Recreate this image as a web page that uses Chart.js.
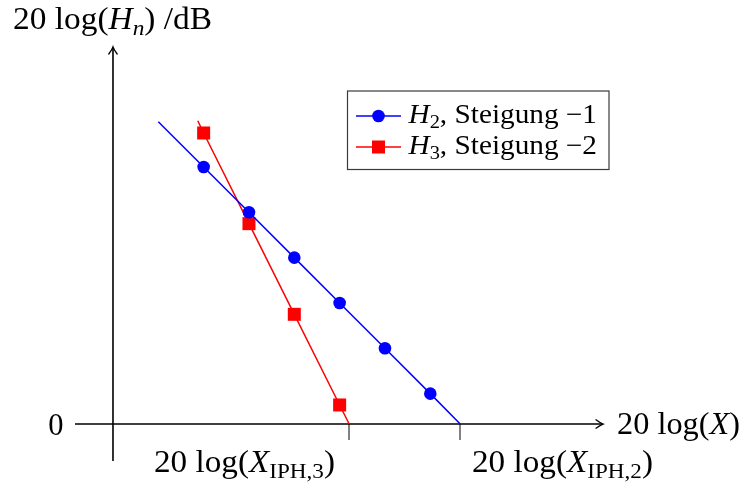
<!DOCTYPE html>
<html>
<head>
<meta charset="utf-8">
<script src="https://cdn.jsdelivr.net/npm/chart.js@4/dist/chart.umd.min.js"></script>
<style>
  html, body { margin: 0; padding: 0; background: #ffffff; }
  #wrap { width: 744px; height: 491px; }
</style>
</head>
<body>
<div id="wrap"><canvas id="c" width="744" height="491"></canvas></div>
<script>
// ---- data (arbitrary log units) ----
const h2X = [1.00, 2, 3, 4, 5, 6, 7, 7.66];
const h2Y = [6.67, 5.67, 4.67, 3.67, 2.67, 1.67, 0.67, 0];
const h3X = [1.87, 2, 3, 4, 5, 5.21];
const h3Y = [6.69, 6.42, 4.42, 2.42, 0.42, 0];
const tickX = [5.21, 7.66];
const tickLabels = [
  [['20 log(', 0, 0], ['X', 1, 0], ['IPH,3', 0, 1], [')', 0, 0]],
  [['20 log(', 0, 0], ['X', 1, 0], ['IPH,2', 0, 1], [')', 0, 0]]
];
const seriesNames = ['H2, Steigung −1', 'H3, Steigung −2'];
const legendRich = [
  [['H', 1, 0], ['2', 0, 1], [', Steigung −1', 0, 0]],
  [['H', 1, 0], ['3', 0, 1], [', Steigung −2', 0, 0]]
];
const yTitle = [['20 log(', 0, 0], ['H', 1, 0], ['n', 1, 1], [') /dB', 0, 0]];
const xTitle = [['20 log(', 0, 0], ['X', 1, 0], [')', 0, 0]];
const yZero = [['0', 0, 0]];

const FAM = '"Liberation Serif", "Times New Roman", serif';
function fontOf(size, it, sub) {
  const s = sub ? size * 0.7 : size;
  return (it ? 'italic ' : '') + s.toFixed(1) + 'px ' + FAM;
}
function drawRich(ctx, segs, x, y, size, align, targetW) {
  ctx.save();
  let w = 0;
  const ws = segs.map(s => { ctx.font = fontOf(size, s[1], s[2]); const m = ctx.measureText(s[0]).width; w += m; return m; });
  const tw = targetW || w;
  const sc = tw / w;
  let x0 = x;
  if (align === 'right') x0 = x - tw;
  else if (align === 'center') x0 = x - tw / 2;
  ctx.translate(x0, y);
  ctx.scale(sc, 1);
  ctx.fillStyle = '#000';
  ctx.textBaseline = 'alphabetic';
  ctx.textAlign = 'left';
  let cx = 0;
  segs.forEach((s, i) => {
    ctx.font = fontOf(size, s[1], s[2]);
    ctx.fillText(s[0], cx, s[2] ? size * 0.2 : 0);
    cx += ws[i];
  });
  ctx.restore();
}
function arrowHead(ctx, x, y, dir) {
  ctx.save();
  ctx.translate(x, y);
  if (dir === 'up') ctx.rotate(-Math.PI / 2);
  ctx.beginPath();
  ctx.moveTo(-7, -4.2);
  ctx.quadraticCurveTo(-2.5, -0.8, 0, 0);
  ctx.quadraticCurveTo(-2.5, 0.8, -7, 4.2);
  ctx.stroke();
  ctx.restore();
}

const axesPlugin = {
  id: 'axesPlugin',
  beforeDatasetsDraw(chart) {
    const { ctx, chartArea: a, scales: { x, y } } = chart;
    const ox = x.getPixelForValue(0), oy = y.getPixelForValue(0);
    ctx.save();
    ctx.strokeStyle = '#4d4d4d';
    ctx.lineWidth = 1.4;
    tickX.forEach(v => {
      const px = Math.round(x.getPixelForValue(v));
      ctx.beginPath(); ctx.moveTo(px, oy); ctx.lineTo(px, oy + 16); ctx.stroke();
    });
    ctx.strokeStyle = '#000';
    ctx.lineWidth = 1.6;
    ctx.lineCap = 'butt';
    ctx.beginPath(); ctx.moveTo(a.left, oy); ctx.lineTo(a.right - 0.5, oy); ctx.stroke();
    ctx.beginPath(); ctx.moveTo(ox, a.bottom); ctx.lineTo(ox, a.top + 0.5); ctx.stroke();
    ctx.lineWidth = 1.3;
    ctx.lineCap = 'round';
    arrowHead(ctx, a.right, oy, 'right');
    arrowHead(ctx, ox, a.top, 'up');
    ctx.restore();
  },
  afterDraw(chart) {
    const { ctx, scales: { y } } = chart;
    const oy = y.getPixelForValue(0);
    drawRich(ctx, yTitle, 13, 28.5, 30.5, 'left', 199);
    drawRich(ctx, xTitle, 617, oy + 10, 30.5, 'left', 123);
    drawRich(ctx, yZero, 63.5, oy + 10.5, 30.5, 'right');
    drawRich(ctx, tickLabels[0], 154, 471.5, 30.5, 'left', 181);
    drawRich(ctx, tickLabels[1], 472, 471.5, 30.5, 'left', 181);
    const bx = 347.5, by = 91, bw = 261.5, bh = 78.5;
    ctx.save();
    ctx.fillStyle = '#fff';
    ctx.fillRect(bx, by, bw, bh);
    ctx.strokeStyle = '#3a3a3a';
    ctx.lineWidth = 1.2;
    ctx.strokeRect(bx, by, bw, bh);
    const rows = [116, 147];
    chart.data.datasets.forEach((ds, i) => {
      const ry = rows[i];
      ctx.strokeStyle = ds.borderColor;
      ctx.lineWidth = ds.borderWidth;
      ctx.beginPath(); ctx.moveTo(356, ry); ctx.lineTo(401, ry); ctx.stroke();
      ctx.fillStyle = ds.backgroundColor;
      if (ds.pointStyle === 'rect') {
        ctx.fillRect(378.5 - 6.5, ry - 6.5, 13, 13);
      } else {
        ctx.beginPath(); ctx.arc(378.5, ry, 6.3, 0, Math.PI * 2); ctx.fill();
      }
      drawRich(ctx, legendRich[i], 408.5, ry + 6.8, 27, 'left', 188.5);
    });
    ctx.restore();
  }
};

const endRadius = (r) => (c) => (c.dataIndex === 0 || c.dataIndex === c.dataset.data.length - 1) ? 0 : r;

new Chart(document.getElementById('c'), {
  type: 'scatter',
  data: {
    datasets: [
      {
        label: seriesNames[0],
        data: h2X.map((v, i) => ({ x: v, y: h2Y[i] })),
        showLine: true,
        borderColor: '#0000ff',
        backgroundColor: '#0000ff',
        borderWidth: 1.5,
        pointStyle: 'circle',
        pointRadius: endRadius(6.3),
        pointBorderWidth: 0,
        pointHoverRadius: endRadius(6.3)
      },
      {
        label: seriesNames[1],
        data: h3X.map((v, i) => ({ x: v, y: h3Y[i] })),
        showLine: true,
        borderColor: '#ff0000',
        backgroundColor: '#ff0000',
        borderWidth: 1.5,
        pointStyle: 'rect',
        pointRadius: endRadius(9.2),
        pointBorderWidth: 0,
        pointHoverRadius: endRadius(9.2)
      }
    ]
  },
  options: {
    responsive: false,
    animation: false,
    devicePixelRatio: 1,
    layout: { padding: { left: 75, right: 141, top: 47, bottom: 30 } },
    scales: {
      x: { type: 'linear', min: -0.838, max: 10.81, display: false },
      y: { type: 'linear', min: -0.816, max: 8.317, display: false }
    },
    plugins: {
      legend: { display: false },
      tooltip: { enabled: false }
    },
    events: []
  },
  plugins: [axesPlugin]
});
</script>
</body>
</html>
